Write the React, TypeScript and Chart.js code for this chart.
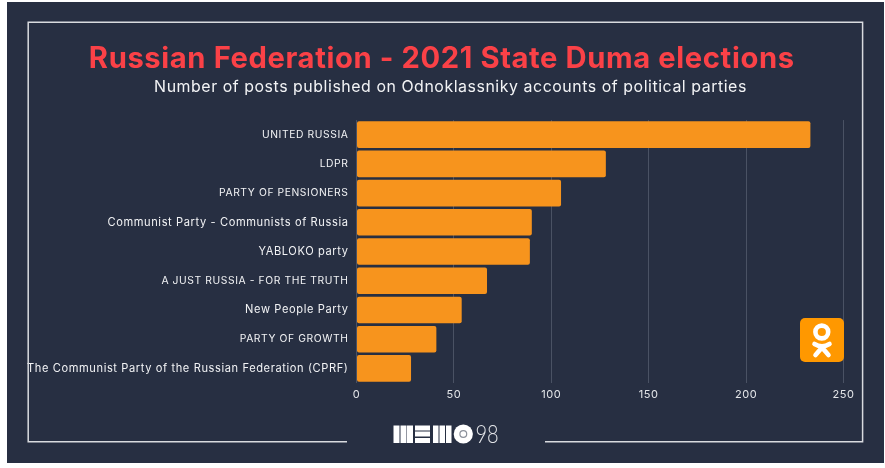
import React, { useEffect, useRef } from "react";
import { Chart, registerables } from "chart.js";

Chart.register(...registerables);

const categories = [
  "UNITED RUSSIA",
  "LDPR",
  "PARTY OF PENSIONERS",
  "Communist Party - Communists of Russia",
  "YABLOKO party",
  "A JUST RUSSIA - FOR THE TRUTH",
  "New People Party",
  "PARTY OF GROWTH",
  "The Communist Party of the Russian Federation (CPRF)",
];
const posts = [233, 128, 105, 90, 89, 67, 54, 41, 28];
const titleText = "Russian Federation - 2021 State Duma elections";
const subtitleText = "Number of posts published on Odnoklassniky accounts of political parties";
const logoSuffix = "98";

const FONT = "Inter, 'Noto Sans', sans-serif";

const decor = {
  id: "decor",
  afterLayout(chart: any) {
    // the longest label reaches past the scale's box: let it draw there
    chart.scales.y.left = 0;
  },
  beforeDraw(chart: any) {
    const c = chart.ctx;
    c.save();
    c.fillStyle = "#ffffff";
    c.fillRect(0, 0, 885, 468);
    c.fillStyle = "#272F42";
    c.fillRect(7, 2, 877, 461);
    c.restore();
    c.letterSpacing = "0.6px";
  },
  afterDraw(chart: any) {
    const c = chart.ctx;
    c.save();
    // subtitle
    c.fillStyle = "#F2F3F5";
    c.font = `400 15.9px ${FONT}`;
    c.textAlign = "center";
    c.textBaseline = "middle";
    c.letterSpacing = "0.55px";
    c.fillText(subtitleText, 450.5, 87);
    c.letterSpacing = "0px";

    // frame
    c.strokeStyle = "#D9DBDF";
    c.lineWidth = 1.5;
    c.beginPath();
    c.moveTo(347, 441.8);
    c.lineTo(28.2, 441.8);
    c.lineTo(28.2, 22.2);
    c.lineTo(862.6, 22.2);
    c.lineTo(862.6, 441.8);
    c.lineTo(545, 441.8);
    c.stroke();

    // Odnoklassniki badge
    c.fillStyle = "#FF9800";
    c.beginPath();
    c.roundRect(800, 318, 44, 44, 5);
    c.fill();
    c.strokeStyle = "#ffffff";
    c.lineWidth = 4.6;
    c.lineCap = "round";
    c.lineJoin = "round";
    c.beginPath();
    c.arc(821.8, 332, 6.4, 0, Math.PI * 2);
    c.stroke();
    c.beginPath();
    c.moveTo(814.5, 344);
    c.quadraticCurveTo(822, 348.5, 829.5, 344);
    c.stroke();
    c.beginPath();
    c.moveTo(815.5, 355);
    c.lineTo(822, 347.5);
    c.lineTo(828.5, 355);
    c.stroke();

    // MEMO logo
    c.fillStyle = "#ffffff";
    [393.5, 400.5, 407].forEach((x) => c.fillRect(x, 425.5, 6, 17.5));
    [425.5, 431.5, 438].forEach((y) => c.fillRect(415, y, 15, 5));
    [433, 439.5, 446].forEach((x) => c.fillRect(x, 425.5, 5.5, 17.5));
    c.beginPath();
    c.arc(463.3, 434, 9.6, 0, Math.PI * 2);
    c.fill();
    c.strokeStyle = "#8c919b";
    c.lineWidth = 1.2;
    c.beginPath();
    c.arc(463.3, 434, 3.4, 0, Math.PI * 2);
    c.stroke();
    c.fillStyle = "#E2E4E8";
    c.font = "300 25px Lato, sans-serif";
    c.textAlign = "left";
    c.textBaseline = "middle";
    c.translate(475.5, 434.5);
    c.scale(0.8, 1);
    c.fillText(logoSuffix, 0, 0);
    c.restore();
  },
};

export default function App() {
  const ref = useRef<HTMLCanvasElement>(null);
  useEffect(() => {
    if (!ref.current) return;
    const chart = new Chart(ref.current, {
      type: "bar",
      data: {
        labels: categories,
        datasets: [
          {
            data: posts,
            backgroundColor: "#F7941D",
            borderRadius: 2,
            borderSkipped: false,
            categoryPercentage: 1,
            barPercentage: 0.91,
          },
        ],
      },
      options: {
        indexAxis: "y",
        responsive: false,
        animation: false,
        layout: { padding: { left: 40, right: 41.5, top: 42, bottom: 60 } },
        plugins: {
          legend: { display: false },
          tooltip: { enabled: false },
          title: {
            display: true,
            text: titleText,
            color: "#FA4147",
            font: { family: FONT, size: 29.2, weight: "700" },
            padding: { top: 0, bottom: 43 },
          },
          subtitle: { display: false },
        },
        scales: {
          x: {
            min: 0,
            max: 250,
            position: "bottom",
            ticks: {
              stepSize: 50,
              color: "#E4E6E9",
              font: { family: FONT, size: 11 },
              maxRotation: 0,
              padding: 5,
            },
            grid: { color: "#4A5264", lineWidth: 1, drawTicks: false },
            border: { display: false },
            afterFit(s: any) {
              s.height = 25;
            },
          },
          y: {
            ticks: {
              color: "#F2F3F5",
              font: (ctx: any) => {
                const label = categories[ctx.index] ?? "";
                return {
                  family: FONT,
                  size: label === label.toUpperCase() ? 10.3 : 11.1,
                };
              },
              padding: 8,
              autoSkip: false,
            },
            grid: { display: false, drawTicks: false },
            border: { display: false },
            afterFit(s: any) {
              s.width = 316.5;
            },
          },
        },
      },
      plugins: [decor],
    } as any);
    return () => chart.destroy();
  }, []);
  return (
    <div style={{ position: "absolute", left: 0, top: 0, width: 885, height: 468 }}>
      <canvas ref={ref} width={885} height={468} style={{ display: "block" }} />
    </div>
  );
}
